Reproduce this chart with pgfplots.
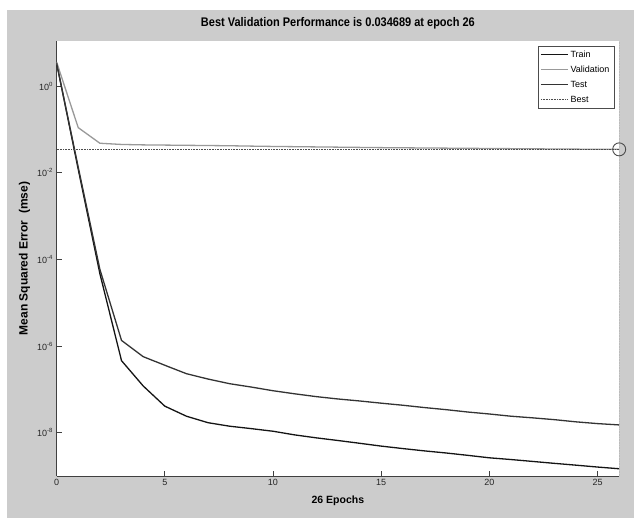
\documentclass[border=0pt]{standalone}
\usepackage{pgfplots}
\pgfplotsset{compat=1.18}
\usepackage{graphicx}
\usepackage{fontspec}
\setmainfont{Liberation Sans}
\definecolor{figbg}{gray}{0.8}
\definecolor{valgray}{gray}{0.6}
\definecolor{testgray}{gray}{0.2}
\definecolor{traingray}{gray}{0.08}
\begin{document}
\begin{tikzpicture}[x=1pt,y=1pt]
\fill[white] (0,0) rectangle (634,519);
\fill[figbg] (7,1) rectangle (634,509);
\begin{axis}[
    at={(56.6pt,43pt)}, anchor=south west,
    scale only axis, width=562.6pt, height=435pt,
    xmin=0, xmax=26,
    ymode=log, ymin=1e-9, ymax=11,
    axis background/.style={fill=white},
    axis x line*=bottom, axis y line*=left,
    axis line style={-, draw=black!75, line width=0.6pt},
    tick style={draw=black!75, line width=0.6pt},
    tick align=inside, major tick length=5pt,
    yminorticks=false,
    xtick={0,5,10,15,20,25},
    ytick={1e-8,1e-6,1e-4,1e-2,1},
    yticklabels={10\textsuperscript{-8},10\textsuperscript{-6},10\textsuperscript{-4},10\textsuperscript{-2},10\textsuperscript{0}},
    /pgf/number format/assume math mode=true,
    tick label style={font=\fontsize{9}{10}\selectfont, text=black!85},
    title={\scalebox{0.88}[1]{Best Validation Performance is 0.034689 at epoch 26}},
    title style={at={(0.5,1)}, anchor=center, yshift=12pt, font=\bfseries\fontsize{12.5}{14}\selectfont},
    xlabel={26 Epochs},
    xlabel style={at={(axis description cs:0.5,0)}, anchor=center, yshift=-25pt, font=\bfseries\fontsize{10.5}{12}\selectfont},
    ylabel={Mean Squared Error\ \ (mse)},
    ylabel style={at={(axis description cs:-0.057,0.5)}, anchor=center, font=\bfseries\fontsize{12}{14}\selectfont},
    legend style={at={(0.991,0.989)}, anchor=north east, draw=black!70, fill=white,
        font=\fontsize{9}{10}\selectfont, cells={anchor=west}, inner sep=2.5pt, row sep=3.2pt},
    legend image code/.code={\draw[#1] (0pt,0pt) -- (27pt,0pt);},
]
\addplot[traingray, line width=1.3pt] coordinates {
    (0,3.4) (1,0.012) (2,4.7e-5) (3,4.6e-7) (4,1.2e-7) (5,4.1e-8)
    (6,2.4e-8) (7,1.7e-8) (8,1.41e-8) (9,1.24e-8) (10,1.08e-8)
    (11,8.9e-9) (12,7.6e-9) (13,6.6e-9) (14,5.7e-9) (15,4.9e-9)
    (16,4.3e-9) (17,3.8e-9) (18,3.4e-9) (19,3.0e-9) (20,2.63e-9)
    (21,2.4e-9) (22,2.17e-9) (23,1.96e-9) (24,1.78e-9) (25,1.61e-9) (26,1.47e-9)
};
\addlegendentry{Train}
\addplot[valgray, line width=1.3pt] coordinates {
    (0,3.6) (1,0.11) (2,0.048) (3,0.045) (4,0.044) (5,0.0435)
    (6,0.043) (7,0.0425) (8,0.042) (9,0.0412) (10,0.0405)
    (11,0.040) (12,0.0395) (13,0.039) (14,0.0385) (15,0.038)
    (16,0.0377) (17,0.0373) (18,0.037) (19,0.0367) (20,0.0363)
    (21,0.036) (22,0.0357) (23,0.0354) (24,0.0351) (25,0.0349) (26,0.034689)
};
\addlegendentry{Validation}
\addplot[testgray, line width=1.3pt] coordinates {
    (0,3.4) (1,0.0134) (2,5.9e-5) (3,1.35e-6) (4,5.7e-7) (5,3.6e-7)
    (6,2.3e-7) (7,1.73e-7) (8,1.35e-7) (9,1.13e-7) (10,9.3e-8)
    (11,7.9e-8) (12,6.8e-8) (13,6.0e-8) (14,5.4e-8) (15,4.8e-8)
    (16,4.3e-8) (17,3.8e-8) (18,3.4e-8) (19,3.0e-8) (20,2.7e-8)
    (21,2.4e-8) (22,2.2e-8) (23,2.0e-8) (24,1.78e-8) (25,1.62e-8) (26,1.51e-8)
};
\addlegendentry{Test}
\addplot[black!70, densely dotted, line width=0.6pt] coordinates {(0,0.034689) (26,0.034689)};
\addlegendentry{Best}
\addplot[black!70, densely dotted, line width=0.6pt, forget plot] coordinates {(26,1e-9) (26,11)};
\addplot[black!70, only marks, mark=o, mark size=6.5pt, mark options={line width=0.9pt}, forget plot]
    coordinates {(26,0.034689)};
\end{axis}
\end{tikzpicture}
\end{document}
